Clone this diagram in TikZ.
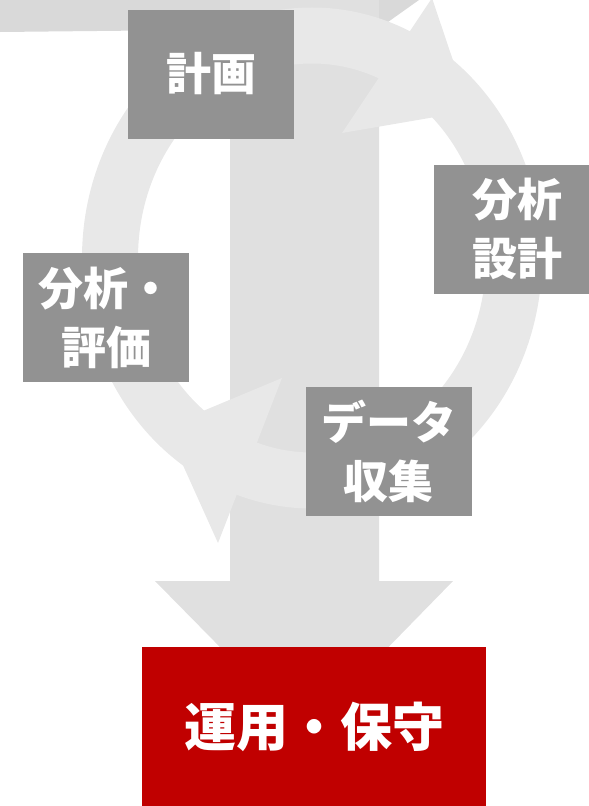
\documentclass[tikz,border=0pt]{standalone}
\usepackage{fontspec}
\setmainfont{Noto Sans CJK JP}
\definecolor{boxgray}{HTML}{929292}
\definecolor{ringgray}{HTML}{E8E8E8}
\definecolor{shaftgray}{HTML}{E0E0E0}
\definecolor{bandgray}{HTML}{D9D9D9}
\definecolor{opsred}{HTML}{C00000}
\begin{document}
\begin{tikzpicture}[x=1pt,y=-1pt,
  stagebox/.style={fill=boxgray, text=white, minimum width=166pt, minimum height=129pt,
    inner sep=0pt, align=center, font=\bfseries\fontsize{45}{59}\selectfont},
  opsbox/.style={fill=opsred, text=white, minimum width=344pt, minimum height=160pt,
    inner sep=0pt, align=center, font=\bfseries\fontsize{52}{60}\selectfont}]
\useasboundingbox (0,0) rectangle (589,806);
% top band
\fill[bandgray] (0,-5) -- (426,-5) -- (388,22) -- (290,29) -- (0,32) -- cycle;
% big down arrow
\fill[shaftgray] (230,-5) -- (379,-5) -- (379,581) -- (453,581) -- (304.5,733)
  -- (155,581) -- (230,581) -- cycle;
% cycle ring
\draw[ringgray, line width=56pt] (312,258) ellipse [x radius=202, y radius=222.5];
% arrowheads
\fill[ringgray] (342,133) -- (432,-2) -- (470,111) -- cycle;
\fill[ringgray] (282,378) -- (165.6,426.6) -- (218,543) -- cycle;
% stages
\node[stagebox] (plan) at (211,74) {計画};
\node[stagebox] (design) at (517,229) {分析\\設計};
\node[stagebox] (collect) at (388.5,451.5) {データ\\収集};
\node[stagebox] (eval) at (106,317.5) {分析・\\評価};
\node[opsbox] (ops) at (314,727) {運用・保守};
\end{tikzpicture}
\end{document}
